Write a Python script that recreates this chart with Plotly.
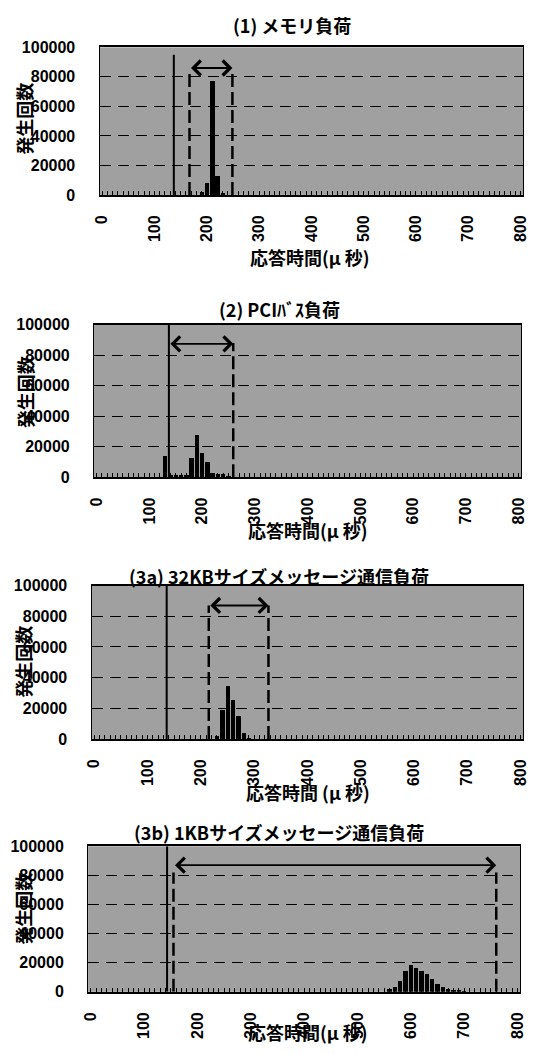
import plotly.graph_objects as go

# ---------------- data ----------------
titles = ["(1) メモリ負荷", "(2) PCIﾊﾞｽ負荷",
          "(3a) 32KBサイズメッセージ通信負荷", "(3b) 1KBサイズメッセージ通信負荷"]
x_titles = ["応答時間(μ 秒)", "応答時間(μ 秒)", "応答時間 (μ 秒)", "応答時間(μ 秒)"]
y_title = "発生回数"

# histogram bins (µs, 10 µs wide) and counts per panel
bins_1 = [190, 200, 210, 220, 230]
counts_1 = [2000, 8000, 77000, 12500, 800]

bins_2 = [130, 140, 150, 160, 170, 180, 190, 200, 210, 220, 230, 240, 250]
counts_2 = [14000, 1500, 1500, 1500, 1800, 13000, 28000, 16000, 10000, 3000, 2000, 2000, 600]

bins_3a = [220, 230, 240, 250, 260, 270, 280, 290]
counts_3a = [300, 2500, 19500, 35000, 26000, 15000, 4500, 800]

bins_3b = [560, 570, 580, 590, 600, 610, 620, 630, 640, 650, 660, 670, 680, 690, 700]
counts_3b = [2000, 3500, 7000, 14000, 18500, 16000, 14000, 12000, 8500, 5000, 3000, 2000, 1000, 500, 300]

bins = [bins_1, bins_2, bins_3a, bins_3b]
counts = [counts_1, counts_2, counts_3a, counts_3b]

# annotation values per panel
min_line = [137, 137, 136, 143]          # solid vertical line (µs)
min_line_top = [95000, 100000, 100000, 100000]
range_lo = [167, None, 215, 155]         # left dashed line (µs)
range_hi = [249, 259, 327, 760]          # right dashed line (µs)
arrow_from = [167, 137, 215, 155]
arrow_to = [249, 259, 327, 760]
arrow_y = [86000, 87500, 87000, 87000]
dash_top = [84000, 88000, 87000, 82000]

y_ticks = [0, 20000, 40000, 60000, 80000, 100000]
y_ticklabels = ["0", "20000", "40000", "60000", "80000", "100000"]
x_ticks = [0, 100, 200, 300, 400, 500, 600, 700, 800]
x_ticklabels = ["0", "100", "200", "300", "400", "500", "600", "700", "800"]

# ---------------- layout geometry (px) ----------------
W, H = 537, 1054
x_dom_px = [(95.7, 529), (90, 527), (87.5, 529), (84, 526)]
y_dom_px = [(40, 190), (322, 477), (587, 743), (852, 1000)]
title_px = [(293, 17), (280, 306), (279, 577), (279, 837)]
xtitle_px = [(311, 253), (309, 531), (309, 797), (309, 1041)]
ytitle_px = [(19, 113), (19, 391), (18, 665), (18, 916)]

NUM_FONT = "Liberation Sans, Arial, Noto Sans CJK JP"
JP_FONT = "Noto Sans CJK JP, Liberation Sans"

fig = go.Figure()
layout = dict(width=W, height=H, margin=dict(l=0, r=0, t=0, b=0),
              paper_bgcolor="white", plot_bgcolor="#a0a0a0",
              showlegend=False, bargap=0)
shapes = []
annotations = []

for i in range(4):
    n = "" if i == 0 else str(i + 1)
    xa, ya = "x" + n, "y" + n
    fig.add_trace(go.Bar(x=bins[i], y=counts[i], width=8.4,
                         marker=dict(color="black", line=dict(width=0)),
                         xaxis=xa, yaxis=ya))
    x0, x1 = x_dom_px[i]
    y0, y1 = y_dom_px[i]
    layout["xaxis" + n] = dict(
        domain=[x0 / W, x1 / W], anchor=ya, range=[-5, 805],
        tickmode="array", tickvals=x_ticks, ticktext=x_ticklabels, tickangle=-90,
        ticks="inside", ticklen=4, tickcolor="black",
        minor=dict(dtick=10, tick0=0, ticks="inside", ticklen=4, tickcolor="black"),
        showline=True, linecolor="black", linewidth=2, mirror=True,
        showgrid=False, zeroline=False, ticklabelstandoff=12,
        ticklabeloverflow="allow",
        tickfont=dict(family=NUM_FONT, size=16, color="black", weight="bold"))
    layout["yaxis" + n] = dict(
        domain=[1 - y1 / H, 1 - y0 / H], anchor=xa, range=[0, 100000],
        tickmode="array", tickvals=y_ticks, ticktext=y_ticklabels, ticks="",
        showline=True, linecolor="black", linewidth=1.2, mirror=True,
        showgrid=True, gridcolor="black", gridwidth=1, griddash="11px,7px",
        zeroline=False, ticklabelstandoff=20,
        tickfont=dict(family=NUM_FONT, size=16, color="black", weight="bold"))

    # solid line
    shapes.append(dict(type="line", xref=xa, yref=ya, x0=min_line[i], x1=min_line[i],
                       y0=0, y1=min_line_top[i], line=dict(color="black", width=2)))
    # dashed range lines
    for v in (range_lo[i], range_hi[i]):
        if v is not None:
            shapes.append(dict(type="line", xref=xa, yref=ya, x0=v, x1=v, y0=0,
                               y1=dash_top[i], line=dict(color="black", width=2.5, dash="13px,5px")))
    # double arrow
    annotations.append(dict(xref=xa, yref=ya, axref=xa, ayref=ya,
                            x=arrow_to[i], y=arrow_y[i], ax=arrow_from[i], ay=arrow_y[i],
                            text="", showarrow=True, arrowside="end+start",
                            arrowhead=4, arrowsize=1.6, arrowwidth=1.8, arrowcolor="black"))
    # titles
    tx, ty = title_px[i]
    annotations.append(dict(xref="paper", yref="paper", x=tx / W, y=1 - ty / H,
                            text=titles[i], showarrow=False, xanchor="center", yanchor="middle",
                            font=dict(family=JP_FONT, size=18, color="black", weight="bold")))
    xx, xy = xtitle_px[i]
    annotations.append(dict(xref="paper", yref="paper", x=xx / W, y=1 - xy / H,
                            text=x_titles[i], showarrow=False, xanchor="center", yanchor="middle",
                            font=dict(family=JP_FONT, size=18, color="black", weight="bold")))
    yx, yy = ytitle_px[i]
    annotations.append(dict(xref="paper", yref="paper", x=yx / W, y=1 - yy / H,
                            text=y_title, showarrow=False, textangle=-90,
                            xanchor="center", yanchor="middle",
                            font=dict(family=JP_FONT, size=18, color="black", weight="bold")))

layout["shapes"] = shapes
layout["annotations"] = annotations
fig.update_layout(**layout)
fig.write_html("out.html", config={"displayModeBar": False},
               post_script="document.body.style.margin='0';document.body.style.overflow='hidden';")
